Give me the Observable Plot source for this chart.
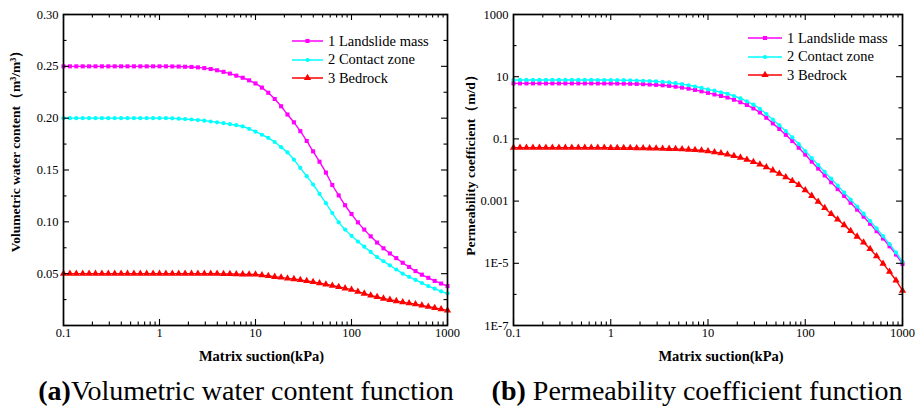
<!DOCTYPE html>
<html><head><meta charset="utf-8">
<script src="https://cdn.jsdelivr.net/npm/d3@7"></script>
<script src="https://cdn.jsdelivr.net/npm/@observablehq/plot@0.6"></script>
<style>
body{margin:0;background:#fff;}
#root{position:relative;width:919px;height:408px;overflow:hidden;font-family:"Liberation Serif","Times New Roman",serif;background:#fff;}
.panel{position:absolute;top:0;}
.legend{position:absolute;font-size:14.5px;color:#000;font-family:"Liberation Serif";}
.caption{position:absolute;top:376.6px;font-size:28px;line-height:28px;white-space:nowrap;transform:translateX(-50%);color:#000;font-family:"Liberation Serif";}
</style></head><body><div id="root"></div>
<script>
// ---------------- data ----------------
const suction = [
  0.1,0.1166,0.1359,0.1585,0.1848,0.2154,0.2512,0.2929,0.3415,0.3981,0.4642,0.5412,0.631,0.7356,0.8577,
  1,1.166,1.359,1.585,1.848,2.154,2.512,2.929,3.415,3.981,4.642,5.412,6.31,7.356,8.577,
  10,11.66,13.59,15.85,18.48,21.54,25.12,29.29,34.15,39.81,46.42,54.12,63.1,73.56,85.77,
  100,116.6,135.9,158.5,184.8,215.4,251.2,292.9,341.5,398.1,464.2,541.2,631,735.6,857.7,
  1000];

const seriesNames = ["1 Landslide mass", "2 Contact zone", "3 Bedrock"];

// (a) volumetric water content, m3/m3
const thetaLandslide = [
  0.25,0.25,0.25,0.25,0.25,0.25,0.25,0.25,0.25,0.25,0.25,0.25,0.25,0.25,0.25,
  0.25,0.25,0.2499,0.2498,0.2496,0.2494,0.249,0.2483,0.2474,0.2462,0.2447,0.243,0.241,0.239,0.2365,
  0.2335,0.2295,0.2245,0.2185,0.2115,0.2035,0.196,0.1875,0.178,0.168,0.158,0.1475,0.1355,0.1255,0.116,
  0.1075,0.0995,0.0925,0.086,0.08,0.0745,0.0695,0.065,0.0605,0.0565,0.0525,0.049,0.046,0.043,0.0405,
  0.038];
const thetaContact = [
  0.2,0.2,0.2,0.2,0.2,0.2,0.2,0.2,0.2,0.2,0.2,0.2,0.2,0.2,0.2,
  0.2,0.2,0.1998,0.1995,0.1991,0.1987,0.1982,0.1976,0.1968,0.196,0.1952,0.1942,0.1932,0.192,0.1897,
  0.187,0.184,0.181,0.177,0.172,0.167,0.16,0.152,0.144,0.136,0.127,0.118,0.1085,0.0995,0.0925,
  0.0865,0.081,0.076,0.071,0.066,0.062,0.058,0.054,0.05,0.047,0.044,0.041,0.038,0.0355,0.033,
  0.031];
const thetaBedrock = [
  0.05,0.05,0.05,0.05,0.05,0.05,0.05,0.05,0.05,0.05,0.05,0.05,0.05,0.05,0.05,
  0.05,0.05,0.05,0.05,0.05,0.05,0.05,0.05,0.0499,0.0499,0.0498,0.0497,0.0496,0.0494,0.0493,
  0.0492,0.0486,0.0478,0.047,0.0463,0.0455,0.0448,0.0439,0.043,0.042,0.0409,0.0397,0.0385,0.0372,0.0359,
  0.0345,0.0326,0.0308,0.029,0.0275,0.026,0.0248,0.0236,0.0225,0.0215,0.0205,0.0193,0.0181,0.017,0.0157,
  0.0145];

// (b) permeability coefficient, m/d
const kLandslide = [
  6.1,6.1,6.1,6.1,6.1,6.1,6.1,6.1,6.1,6.1,6.1,6.1,6.1,6.08,6.07,
  6.05,6.03,5.98,5.93,5.86,5.75,5.62,5.46,5.31,5.07,4.79,4.47,4.12,3.76,3.39,
  3.02,2.69,2.4,2.14,1.82,1.51,1.23,0.955,0.708,0.479,0.316,0.209,0.135,0.0851,0.0519,
  0.0313,0.0186,0.0111,0.00668,0.00403,0.00243,0.00146,0.000881,0.000531,0.000316,0.000186,0.000108,6.24e-5,3.51e-5,1.91e-5,
  9.55e-6];
const kContact = [
  7.85,7.85,7.85,7.85,7.85,7.85,7.85,7.85,7.85,7.85,7.85,7.85,7.85,7.83,7.82,
  7.8,7.76,7.71,7.64,7.55,7.41,7.24,7.03,6.84,6.53,6.17,5.75,5.31,4.84,4.37,
  3.89,3.55,3.16,2.82,2.4,2.0,1.62,1.26,0.933,0.631,0.417,0.275,0.178,0.112,0.0676,
  0.0407,0.0243,0.0145,0.00871,0.00525,0.00316,0.00188,0.00112,0.000668,0.000394,0.000229,0.000132,7.5e-5,4.17e-5,2.24e-5,
  1.12e-5];
const kBedrock = [
  0.0519,0.0519,0.0519,0.0519,0.0519,0.0519,0.0519,0.0519,0.0519,0.0519,0.0519,0.0519,0.0519,0.0519,0.0519,
  0.0516,0.0515,0.0513,0.0511,0.0507,0.0504,0.0499,0.0493,0.0486,0.0481,0.0473,0.0465,0.0454,0.0441,0.0424,
  0.0403,0.0376,0.0347,0.0316,0.0282,0.0251,0.0216,0.0182,0.0151,0.0123,0.00977,0.00759,0.00589,0.00447,0.00331,
  0.00224,0.00148,0.000955,0.000603,0.000389,0.000257,0.00017,0.00011,7.24e-5,4.68e-5,2.88e-5,1.7e-5,9.77e-6,5.37e-6,2.82e-6,
  1.32e-6];

// ticks
const xMajorTicks = [0.1, 1, 10, 100, 1000];
const xTickLabels = ["0.1", "1", "10", "100", "1000"];
const xMinorTicks = [0.2,0.3,0.4,0.5,0.6,0.7,0.8,0.9, 2,3,4,5,6,7,8,9, 20,30,40,50,60,70,80,90, 200,300,400,500,600,700,800,900];
const thetaMajorTicks = [0, 0.05, 0.1, 0.15, 0.2, 0.25, 0.3];
const thetaLabeledTicks = [0.05, 0.1, 0.15, 0.2, 0.25, 0.3];
const thetaTickLabels = ["0.05", "0.10", "0.15", "0.20", "0.25", "0.30"];
const thetaMinorTicks = [0.025, 0.075, 0.125, 0.175, 0.225, 0.275];
const kMajorTicks = [1e-7, 1e-5, 1e-3, 0.1, 10, 1000];
const kTickLabels = ["1E-7", "1E-5", "0.001", "0.1", "10", "1000"];
const kMinorTicks = [1e-6, 1e-4, 1e-2, 1, 100];

// ---------------- style ----------------
const FONT = "Liberation Serif";
const seriesColors = ["#ff00ff", "#00ffff", "#ff0000"];
const seriesSymbols = ["square", "circle", "triangle"];
const symbolR = [2.3, 2.1, 2.7];
const d3Symbols = [d3.symbolSquare, d3.symbolCircle, d3.symbolTriangle];

const H = 372, MT = 14, MB = 47;
const root = document.getElementById("root");

function drawPanel(o) {
  const FW = o.width - o.ml - o.mr, FH = H - MT - MB;
  const marks = [];
  seriesNames.forEach((name, s) => {
    const rows = o.values[s].map((v, i) => ({x: suction[i], y: v}));
    marks.push(Plot.line(rows, {x: "x", y: "y", stroke: seriesColors[s], strokeWidth: 1.4, curve: "monotone-x"}));
    marks.push(Plot.dot(rows, {x: "x", y: "y", symbol: seriesSymbols[s], fill: seriesColors[s], stroke: "none", r: symbolR[s]}));
  });
  const major = 6, minor = 3.5, sw = 1.1;
  for (const [ticks, len] of [[xMajorTicks, major], [xMinorTicks, minor]]) {
    marks.push(Plot.tickX(ticks, {x: d => d, insetTop: FH - len, stroke: "#000", strokeWidth: sw}));
    marks.push(Plot.tickX(ticks, {x: d => d, insetBottom: FH - len, stroke: "#000", strokeWidth: sw}));
  }
  for (const [ticks, len] of [[o.yMajor, major], [o.yMinor, minor]]) {
    marks.push(Plot.tickY(ticks, {y: d => d, insetRight: FW - len, stroke: "#000", strokeWidth: sw}));
    marks.push(Plot.tickY(ticks, {y: d => d, insetLeft: FW - len, stroke: "#000", strokeWidth: sw}));
  }
  marks.push(Plot.frame({stroke: "#000", strokeWidth: 1.7}));
  marks.push(Plot.axisX(xMajorTicks, {tickSize: 0, tickPadding: 3, label: null, fontSize: 12.5, fontFamily: FONT,
    tickFormat: d => xTickLabels[xMajorTicks.indexOf(d)]}));
  marks.push(Plot.axisY(o.yLabeled, {tickSize: 0, tickPadding: 5, label: null, fontSize: 12.5, fontFamily: FONT,
    tickFormat: d => o.yLabels[o.yLabeled.indexOf(d)]}));
  marks.push(Plot.text(["Matrix suction(kPa)"], {frameAnchor: "bottom", dy: 35, dx: o.xTitleDx,
    fontWeight: "bold", fontSize: 14.5, fontFamily: FONT, textAnchor: "middle"}));
  marks.push(Plot.text([o.yTitle], {frameAnchor: "left", rotate: -90, dx: o.yTitleDx, dy: o.yTitleDy,
    fontWeight: "bold", fontSize: 13.5, fontFamily: FONT, textAnchor: "middle"}));

  const chart = Plot.plot({
    width: o.width, height: H,
    marginLeft: o.ml, marginRight: o.mr, marginTop: MT, marginBottom: MB,
    x: {type: "log", domain: [0.1, 1000]},
    y: o.yScale,
    style: {fontFamily: FONT, fontSize: "12.5px", color: "#000", background: "transparent", overflow: "visible"},
    marks
  });
  const wrap = document.createElement("div");
  wrap.className = "panel";
  wrap.style.left = o.left + "px";
  wrap.appendChild(chart);
  root.appendChild(wrap);
}

function drawLegend(left, top, lineW) {
  const div = d3.select(root).append("div").attr("class", "legend")
    .style("left", left + "px").style("top", top + "px");
  seriesNames.forEach((name, s) => {
    const row = div.append("div").style("display", "flex").style("align-items", "center").style("height", "18.5px");
    const svg = row.append("svg").attr("width", lineW).attr("height", 10);
    svg.append("line").attr("x1", 0).attr("x2", lineW).attr("y1", 5).attr("y2", 5)
      .attr("stroke", seriesColors[s]).attr("stroke-width", 1.5);
    svg.append("path").attr("d", d3.symbol(d3Symbols[s], Math.PI * symbolR[s] * symbolR[s])())
      .attr("transform", `translate(${lineW / 2},5)`).attr("fill", seriesColors[s]);
    row.append("span").style("margin-left", "5px").text(name);
  });
}

drawPanel({
  left: 0, width: 460, ml: 63, mr: 13,
  values: [thetaLandslide, thetaContact, thetaBedrock],
  yScale: {type: "linear", domain: [0, 0.3]},
  yMajor: thetaMajorTicks, yMinor: thetaMinorTicks,
  yLabeled: thetaLabeledTicks, yLabels: thetaTickLabels,
  yTitle: "Volumetric water content（m³/m³）", yTitleDx: -48, yTitleDy: -22, xTitleDx: 6
});
drawPanel({
  left: 460, width: 459, ml: 53, mr: 17,
  values: [kLandslide, kContact, kBedrock],
  yScale: {type: "log", domain: [1e-7, 1000]},
  yMajor: kMajorTicks, yMinor: kMinorTicks,
  yLabeled: kMajorTicks, yLabels: kTickLabels,
  yTitle: "Permeability coefficient（m/d）", yTitleDx: -43, yTitleDy: -8, xTitleDx: 13
});
drawLegend(292, 31.75, 31);
drawLegend(748, 28.75, 34);

const capA = document.createElement("div");
capA.className = "caption"; capA.style.left = "246px";
capA.innerHTML = "<b>(a)</b>Volumetric water content function";
root.appendChild(capA);
const capB = document.createElement("div");
capB.className = "caption"; capB.style.left = "697px";
capB.innerHTML = "<b>(b)</b> Permeability coefficient function";
root.appendChild(capB);
</script>
</body></html>
